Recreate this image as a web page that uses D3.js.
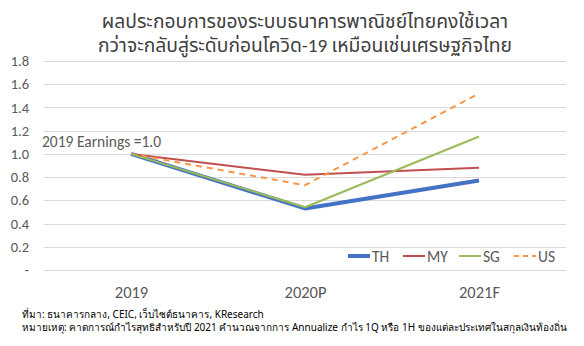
<!DOCTYPE html>
<html><head><meta charset="utf-8">
<script src="https://cdn.jsdelivr.net/npm/d3@7"></script>
<style>body{margin:0;background:#fff}svg{display:block}</style>
</head><body>
<script>
const categories = ["2019", "2020P", "2021F"];
const seriesNames = ["TH", "MY", "SG", "US"];
const thValues = [1.0, 0.53, 0.77];
const myValues = [1.0, 0.82, 0.88];
const sgValues = [1.0, 0.54, 1.15];
const usValues = [1.0, 0.73, 1.52];
const yTicks = [0, 0.2, 0.4, 0.6, 0.8, 1.0, 1.2, 1.4, 1.6, 1.8];
const titleLines = ["ผลประกอบการของระบบธนาคารพาณิชย์ไทยคงใช้เวลา", "กว่าจะกลับสู่ระดับก่อนโควิด-19 เหมือนเช่นเศรษฐกิจไทย"];
const annotation = "2019 Earnings =1.0";
const notes = ["ที่มา: ธนาคารกลาง, CEIC, เว็บไซต์ธนาคาร, KResearch",
  "หมายเหตุ: คาดการณ์กำไรสุทธิสำหรับปี 2021 คำนวณจากการ Annualize กำไร 1Q หรือ 1H ของแต่ละประเทศในสกุลเงินท้องถิ่น"];

const series = [
  {name: "TH", values: thValues, color: "#4472C4", width: 4, dash: null},
  {name: "MY", values: myValues, color: "#C0504D", width: 2, dash: null},
  {name: "SG", values: sgValues, color: "#9BBB59", width: 2, dash: null},
  {name: "US", values: usValues, color: "#F79646", width: 2, dash: "6,5"}
];

const W = 584, H = 346;
const svg = d3.select("body").append("svg").attr("width", W).attr("height", H);
const font = "Calibri, Carlito, 'Noto Sans', 'Noto Sans Thai', sans-serif";

const x = d3.scalePoint().domain(categories).range([131, 479]);
const y = d3.scaleLinear().domain([0, 1.8]).range([270, 61]);

// title
svg.selectAll("text.title").data(titleLines).enter().append("text")
  .attr("x", 305).attr("y", (d, i) => 28 + i * 24)
  .attr("text-anchor", "middle").attr("font-family", font)
  .attr("font-size", 19.3).attr("fill", "#404040").text(d => d);

// gridlines
svg.append("g").selectAll("line").data(yTicks).enter().append("line")
  .attr("x1", 44).attr("x2", 566)
  .attr("y1", d => Math.round(y(d)) + 0.5).attr("y2", d => Math.round(y(d)) + 0.5)
  .attr("stroke", "#D9D9D9").attr("stroke-width", 1);

// y axis
const yAxis = d3.axisLeft(y).tickValues(yTicks).tickSize(0).tickPadding(0)
  .tickFormat(d => d === 0 ? "-" : d3.format(".1f")(d));
const yg = svg.append("g").attr("transform", "translate(29,0)").call(yAxis);
yg.select(".domain").remove();
yg.selectAll("text").attr("font-family", font).attr("font-size", 14.5).attr("fill", "#595959");

// x axis
const xAxis = d3.axisBottom(x).tickSize(0).tickPadding(0);
const xg = svg.append("g").attr("transform", "translate(0,286)").call(xAxis);
xg.select(".domain").remove();
xg.selectAll("text").attr("font-family", font).attr("font-size", 16.5).attr("fill", "#595959");

// lines
const line = d3.line().x((d, i) => x(categories[i])).y(d => y(d));
const drawOrder = [series[0], series[1], series[3], series[2]];
svg.append("g").selectAll("path").data(drawOrder).enter().append("path")
  .attr("d", d => line(d.values)).attr("fill", "none")
  .attr("stroke", d => d.color).attr("stroke-width", d => d.width)
  .attr("stroke-dasharray", d => d.dash).attr("stroke-linejoin", "round");

// annotation
svg.append("text").attr("x", 42).attr("y", 147).attr("font-family", font)
  .attr("font-size", 15.5).attr("fill", "#595959").text(annotation);

// legend
const legX = [348, 403, 459, 514];
const lg = svg.append("g").selectAll("g").data(series).enter().append("g")
  .attr("transform", (d, i) => `translate(${legX[i]},256)`);
lg.append("line").attr("x1", 0).attr("x2", 22).attr("y1", 0).attr("y2", 0)
  .attr("stroke", d => d.color).attr("stroke-width", d => d.name === "TH" ? 4 : 2)
  .attr("stroke-dasharray", d => d.dash ? "5,4" : null);
lg.append("text").attr("x", 24).attr("y", 5.5).attr("font-family", font)
  .attr("font-size", 15.5).attr("fill", "#595959").text(d => d.name);

// notes
svg.selectAll("text.note").data(notes).enter().append("text")
  .attr("x", 22).attr("y", (d, i) => 318 + i * 13)
  .attr("font-family", "Tahoma, 'Noto Sans', sans-serif")
  .attr("font-size", 10).attr("fill", "#000").text(d => d);
</script>
</body></html>
